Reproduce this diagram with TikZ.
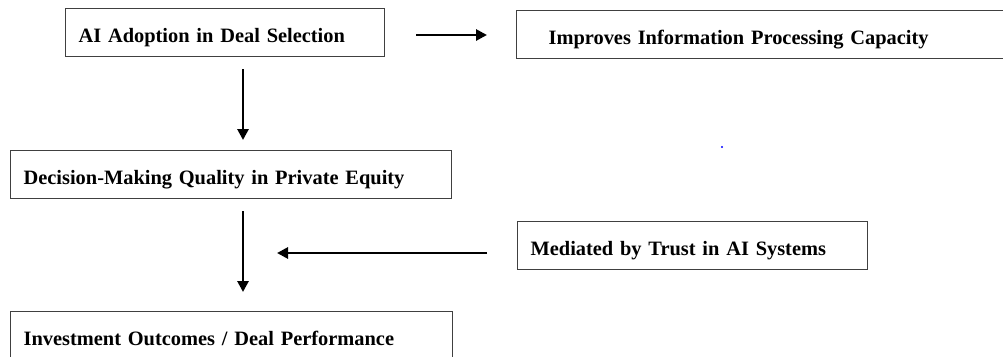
\documentclass[tikz,border=0pt]{standalone}
\usepackage{fontspec}
\setmainfont{Liberation Serif}
\usetikzlibrary{arrows.meta}

\tikzset{
	box/.style={draw=black!75, line width=1.2pt, anchor=north west,
		inner xsep=13pt, inner ysep=0pt, text height=34pt, text depth=14pt,
		align=left, font=\fontsize{20.4}{24}\selectfont\bfseries},
	flow/.style={line width=2.8pt, -{Triangle[length=11pt,width=11pt]}}
}

\begin{document}
\begin{tikzpicture}[x=1pt,y=-1pt]
\useasboundingbox (0,0) rectangle (1003,356);

% boxes, placed by their top left corners
\node[box, text width=293pt] (adopt) at (65,8) {AI Adoption in Deal Selection};
\node[box, inner xsep=32pt, text width=436pt] (info) at (516,10) {Improves Information Processing Capacity};
\node[box, text width=415pt] (quality) at (10,150) {Decision-Making Quality in Private Equity};
\node[box, text width=324pt] (trust) at (517,221) {Mediated by Trust in AI Systems};
\node[box, text width=416pt] (outcome) at (10,311) {Investment Outcomes / Deal Performance};

% where the arrows run
\coordinate (spine) at (243,0);
\coordinate (side) at (0,35);
\coordinate (tip) at (277,253);

\draw[flow, shorten <=31pt, shorten >=29pt] (adopt.east |- side) -- (info.west |- side);
\draw[flow, shorten <=12pt, shorten >=10pt] (adopt.south -| spine) -- (quality.north -| spine);
\draw[flow, shorten <=12pt, shorten >=19pt] (quality.south -| spine) -- (outcome.north -| spine);
\draw[flow, shorten <=30pt] (trust.west |- tip) -- (tip);

\fill[blue] (722,147) circle (1.2pt);
\end{tikzpicture}
\end{document}
